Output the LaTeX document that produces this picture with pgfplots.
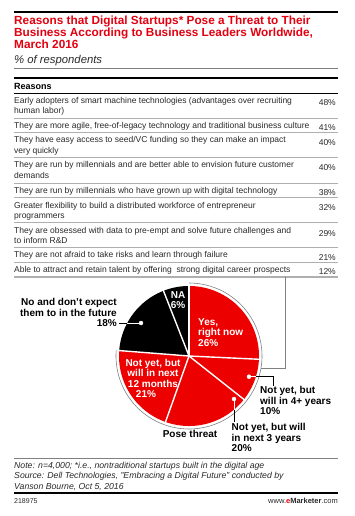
\documentclass[border=0pt]{standalone}
\usepackage{pgfplots}
\pgfplotsset{compat=1.18}
\usepackage{pgfplotstable}
\usepackage{fontspec}
\setmainfont{Liberation Sans}
\definecolor{emred}{RGB}{227,0,15}
\definecolor{piered}{RGB}{237,0,0}
\definecolor{sepgray}{RGB}{175,175,175}
\definecolor{txt}{RGB}{40,40,40}

\pgfplotstableread{
slice value
yes 26
four 10
three 20
twelve 21
no 18
na 6
}\piedata

\newcommand\fbody{\fontsize{8.5}{10}\selectfont}
\newcommand\fpie{\fontsize{10}{10.5}\selectfont\bfseries}
\newcommand\ftitle{\fontsize{11.8}{12}\selectfont\bfseries}

\begin{document}
\begin{tikzpicture}
\useasboundingbox (0,0) rectangle (354pt,-516pt);
\pgfplotstablegetelem{0}{value}\of\piedata \edef\vA{\pgfplotsretval}
\pgfplotstablegetelem{1}{value}\of\piedata \edef\vB{\pgfplotsretval}
\pgfplotstablegetelem{2}{value}\of\piedata \edef\vC{\pgfplotsretval}
\pgfplotstablegetelem{3}{value}\of\piedata \edef\vD{\pgfplotsretval}
\pgfplotstablegetelem{4}{value}\of\piedata \edef\vE{\pgfplotsretval}
\pgfplotstablegetelem{5}{value}\of\piedata \edef\vF{\pgfplotsretval}
\pgfmathsetmacro\tot{\vA+\vB+\vC+\vD+\vE+\vF}
\pgfmathsetmacro\aA{90-360*\vA/\tot}
\pgfmathsetmacro\aB{\aA-360*\vB/\tot}
\pgfmathsetmacro\aC{\aB-360*\vC/\tot}
\pgfmathsetmacro\aD{\aC-360*\vD/\tot}
\pgfmathsetmacro\aE{\aD-360*\vE/\tot}
\pgfmathsetmacro\aF{\aE-360*\vF/\tot}

% ---------- title block ----------
\draw[black, line width=2pt] (14pt,-11.7pt) -- (338pt,-11.7pt);
\node[anchor=base west, inner sep=0pt, font=\ftitle, text=emred] at (14pt,-25pt) {Reasons that Digital Startups* Pose a Threat to Their};
\node[anchor=base west, inner sep=0pt, font=\ftitle, text=emred] at (14pt,-37pt) {Business According to Business Leaders Worldwide,};
\node[anchor=base west, inner sep=0pt, font=\ftitle, text=emred] at (14pt,-49pt) {March 2016};
\node[anchor=base west, inner sep=0pt, font=\fontsize{11.3}{12}\selectfont\itshape, text=txt] at (14pt,-63.8pt) {\% of respondents};
\draw[gray, line width=0.6pt] (14pt,-68.3pt) -- (338pt,-68.3pt);
\draw[black, line width=2.5pt] (14pt,-78pt) -- (338pt,-78pt);

% ---------- reasons table ----------
\node[anchor=base west, inner sep=0pt, font=\fontsize{9}{10}\selectfont\bfseries] at (14pt,-89.5pt) {Reasons};
\draw[black, line width=0.6pt] (14pt,-93pt) -- (338pt,-93pt);
\foreach \yy in {118.1,132.7,157.8,182.9,197.5,222.6,247.7,262.3}
  \draw[sepgray, line width=0.8pt] (14pt,-\yy pt) -- (338pt,-\yy pt);
\draw[sepgray, line width=1.6pt] (14pt,-277pt) -- (338pt,-277pt);

\begin{scope}[every node/.style={inner sep=0pt, font=\fbody, text=txt}]
\node[anchor=base west] at (14pt,-103.1pt) {Early adopters of smart machine technologies (advantages over recruiting};
\node[anchor=base west] at (14pt,-113.6pt) {human labor)};
\node[anchor=base east] at (336pt,-106pt) {48\%};
\node[anchor=base west] at (14pt,-128.2pt) {They are more agile, free-of-legacy technology and traditional business culture};
\node[anchor=base east] at (336pt,-130pt) {41\%};
\node[anchor=base west] at (14pt,-142.8pt) {They have easy access to seed/VC funding so they can make an impact};
\node[anchor=base west] at (14pt,-153.3pt) {very quickly};
\node[anchor=base east] at (336pt,-145.5pt) {40\%};
\node[anchor=base west] at (14pt,-167.9pt) {They are run by millennials and are better able to envision future customer};
\node[anchor=base west] at (14pt,-178.4pt) {demands};
\node[anchor=base east] at (336pt,-170.5pt) {40\%};
\node[anchor=base west] at (14pt,-193pt) {They are run by millennials who have grown up with digital technology};
\node[anchor=base east] at (336pt,-195pt) {38\%};
\node[anchor=base west] at (14pt,-208.1pt) {Greater flexibility to build a distributed workforce of entrepreneur};
\node[anchor=base west] at (14pt,-218.6pt) {programmers};
\node[anchor=base east] at (336pt,-210.5pt) {32\%};
\node[anchor=base west] at (14pt,-233.2pt) {They are obsessed with data to pre-empt and solve future challenges and};
\node[anchor=base west] at (14pt,-243.7pt) {to inform R\&D};
\node[anchor=base east] at (336pt,-236pt) {29\%};
\node[anchor=base west] at (14pt,-257.8pt) {They are not afraid to take risks and learn through failure};
\node[anchor=base east] at (336pt,-260pt) {21\%};
\node[anchor=base west] at (14pt,-272.4pt) {Able to attract and retain talent by offering\ \ strong digital career prospects};
\node[anchor=base east] at (336pt,-274.5pt) {12\%};
\end{scope}

% ---------- pie ----------
\begin{axis}[at={(189pt,-356pt)}, anchor=center, x=1pt, y=1pt,
  xmin=-80, xmax=80, ymin=-80, ymax=80, hide axis, clip=false]
\addplot[fill=piered, draw=none, domain=\aA:90, samples=60] ({70*cos(x)},{70*sin(x)}) -- (axis cs:0,0) -- cycle;
\addplot[fill=piered, draw=none, domain=\aB:\aA, samples=30] ({70*cos(x)},{70*sin(x)}) -- (axis cs:0,0) -- cycle;
\addplot[fill=piered, draw=none, domain=\aC:\aB, samples=50] ({70*cos(x)},{70*sin(x)}) -- (axis cs:0,0) -- cycle;
\addplot[fill=piered, draw=none, domain=\aD:\aC, samples=50] ({70*cos(x)},{70*sin(x)}) -- (axis cs:0,0) -- cycle;
\addplot[fill=black, draw=none, domain=\aE:\aD, samples=50] ({70*cos(x)},{70*sin(x)}) -- (axis cs:0,0) -- cycle;
\addplot[fill=black, draw=none, domain=\aF:\aE, samples=20] ({70*cos(x)},{70*sin(x)}) -- (axis cs:0,0) -- cycle;
% separators
\foreach \ang in {90,\aA,\aB,\aC,\aD,\aE} {
  \edef\tmp{\noexpand\draw[white, line width=1.4pt] (axis cs:0,0) -- (axis cs:{71*cos(\ang)},{71*sin(\ang)});}
  \tmp
}
% outer ring around "pose threat"
\addplot[gray, line width=0.6pt, domain=\aD:90, samples=100] ({73*cos(x)},{73*sin(x)});
% connector from table
\addplot[gray, line width=0.9pt] coordinates {(96,79) (96,-12) (71.5,-12)};
% pointer: 4+ years
\addplot[white, line width=0.8pt] coordinates {(60,-20.7) (67,-20.7)};
\addplot[black, line width=0.8pt] coordinates {(67,-20.7) (84,-20.7) (84,-29.5)};
\addplot[only marks, mark=*, mark size=2pt, mark options={fill=white, draw=white}] coordinates {(60,-20.7)};
% pointer: 3 years
\addplot[white, line width=0.8pt] coordinates {(45,-43) (45,-53.6)};
\addplot[black, line width=0.8pt] coordinates {(45,-53.6) (45,-66)};
\addplot[only marks, mark=*, mark size=2pt, mark options={fill=white, draw=white}] coordinates {(45,-43)};
% pointer: no
\addplot[white, line width=0.8pt] coordinates {(-48,33) (-61.7,33)};
\addplot[black, line width=0.8pt] coordinates {(-61.7,33) (-70,33)};
\addplot[only marks, mark=*, mark size=2pt, mark options={fill=white, draw=white}] coordinates {(-48,33)};
\end{axis}

% ---------- pie labels ----------
\begin{scope}[every node/.style={inner sep=0pt, font=\fpie}]
\node[anchor=base east] at (117pt,-305.5pt) {No and don’t expect};
\node[anchor=base east] at (117pt,-316pt) {them to in the future};
\node[anchor=base east] at (117pt,-326.5pt) {18\%};
\node[anchor=base, text=white] at (178pt,-298.5pt) {NA};
\node[anchor=base, text=white] at (178pt,-308.5pt) {6\%};
\node[anchor=base west, text=white] at (198pt,-325pt) {Yes,};
\node[anchor=base west, text=white] at (198pt,-335.5pt) {right now};
\node[anchor=base west, text=white] at (198pt,-346pt) {26\%};
\node[anchor=base, text=white] at (153pt,-366pt) {Not yet, but};
\node[anchor=base, text=white] at (153pt,-376.5pt) {will in next};
\node[anchor=base, text=white] at (153pt,-387pt) {12 months};
\node[anchor=base, text=white] at (146pt,-397.5pt) {21\%};
\node[anchor=base west] at (260pt,-393.5pt) {Not yet, but};
\node[anchor=base west] at (260pt,-404pt) {will in 4+ years};
\node[anchor=base west] at (260pt,-414.5pt) {10\%};
\node[anchor=base west] at (231.5pt,-430.5pt) {Not yet, but will};
\node[anchor=base west] at (231.5pt,-441pt) {in next 3 years};
\node[anchor=base west] at (231.5pt,-451.5pt) {20\%};
\node[anchor=base] at (190pt,-437.5pt) {Pose threat};
\end{scope}

% ---------- footer ----------
\draw[gray, line width=0.6pt] (14pt,-458.3pt) -- (338pt,-458.3pt);
\begin{scope}[every node/.style={inner sep=0pt, font=\fontsize{8.7}{10}\selectfont\itshape, text=txt}]
\node[anchor=base west] at (14pt,-468.3pt) {Note: n=4,000; *i.e., nontraditional startups built in the digital age};
\node[anchor=base west] at (14pt,-478.8pt) {Source: Dell Technologies, "Embracing a Digital Future" conducted by};
\node[anchor=base west] at (14pt,-489.3pt) {Vanson Bourne, Oct 5, 2016};
\end{scope}
\draw[black, line width=2.2pt] (14pt,-492.7pt) -- (338pt,-492.7pt);
\node[anchor=base west, inner sep=0pt, font=\fontsize{7}{8}\selectfont, text=txt] at (14pt,-503pt) {218975};
\node[anchor=base east, inner sep=0pt, font=\fontsize{7.5}{8}\selectfont, text=txt] at (338pt,-503pt) {www.\textcolor{emred}{\bfseries e}{\bfseries Marketer}.com};
\end{tikzpicture}
\end{document}
